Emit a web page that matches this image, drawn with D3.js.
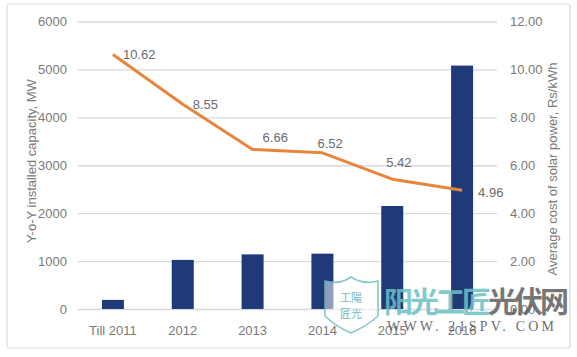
<!DOCTYPE html>
<html><head><meta charset="utf-8">
<script src="https://cdn.jsdelivr.net/npm/d3@7"></script>
<style>
html,body{margin:0;padding:0;background:#fff;}
svg{display:block;font-family:"Liberation Sans",Arial,sans-serif;}
</style></head>
<body>
<svg id="c" width="577" height="357"></svg>
<script>
const categories = ["Till 2011","2012","2013","2014","2015","2016"];
const capacityMW = [190, 1025, 1140, 1155, 2150, 5080];
const costRsKWh = [10.62, 8.55, 6.66, 6.52, 5.42, 4.96];
const leftTicks = [0,1000,2000,3000,4000,5000,6000];
const rightTicks = [0,2,4,6,8,10,12];

const svg = d3.select("#c");
const plotL = 78, plotR = 497, plotT = 21.5, plotB = 309;

// outer frame
svg.append("rect").attr("x",7).attr("y",4).attr("width",563).attr("height",344)
  .attr("rx",3).attr("fill","#fff").attr("stroke","#dcdcdc").attr("stroke-width",1.2);

const x = d3.scaleBand().domain(categories).range([plotL, plotR]).paddingInner(0.685).paddingOuter(0.3425);
const yL = d3.scaleLinear().domain([0,6000]).range([plotB, plotT]);
const yR = d3.scaleLinear().domain([0,12]).range([plotB, plotT]);

// gridlines
const grid = svg.append("g").attr("transform",`translate(${plotL},0)`)
  .call(d3.axisLeft(yL).tickValues(leftTicks).tickSize(-(plotR-plotL)).tickFormat(""));
grid.select(".domain").remove();
grid.selectAll("line").attr("stroke","#d9d9d9").attr("stroke-width",1.3);

// left axis labels
const la = svg.append("g").attr("transform",`translate(67,0)`)
  .call(d3.axisLeft(yL).tickValues(leftTicks).tickSize(0).tickPadding(0).tickFormat(d3.format("d")));
la.select(".domain").remove();
la.selectAll("text").attr("font-size",13).attr("fill","#7a7a7a").attr("font-family","Liberation Sans, Arial, sans-serif");

// right axis labels
const ra = svg.append("g").attr("transform",`translate(510,0)`)
  .call(d3.axisRight(yR).tickValues(rightTicks).tickSize(0).tickPadding(0).tickFormat(d3.format(".2f")));
ra.select(".domain").remove();
ra.selectAll("text").attr("font-size",13).attr("fill","#7a7a7a").attr("font-family","Liberation Sans, Arial, sans-serif");

// x axis labels
const xa = svg.append("g").attr("transform",`translate(0,322)`)
  .call(d3.axisBottom(x).tickSize(0).tickPadding(0));
xa.select(".domain").remove();
xa.selectAll("text").attr("font-size",13).attr("fill","#7a7a7a").attr("dy","1em").attr("font-family","Liberation Sans, Arial, sans-serif");

// bars
svg.append("g").selectAll("rect").data(categories).join("rect")
  .attr("x", d => x(d)).attr("width", x.bandwidth())
  .attr("y", (d,i) => yL(capacityMW[i]))
  .attr("height", (d,i) => yL(0) - yL(capacityMW[i]))
  .attr("fill","#1e3a78");

// line
const cx = d => x(d) + x.bandwidth()/2;
const line = d3.line().x((d,i) => cx(categories[i])).y(d => yR(d));
svg.append("path").datum(costRsKWh).attr("d", line)
  .attr("fill","none").attr("stroke","#e8853d").attr("stroke-width",3).attr("stroke-linejoin","round");

// line labels (placement offsets are layout, not data)
const labelOffsets = [[10,4],[10,5],[10,-7],[-5,-5],[-6,-12],[16,7]];
svg.append("g").selectAll("text").data(costRsKWh).join("text")
  .attr("x", (d,i) => cx(categories[i]) + labelOffsets[i][0])
  .attr("y", (d,i) => yR(d) + labelOffsets[i][1])
  .text(d => d3.format(".2f")(d))
  .attr("font-size",13).attr("fill","#6b6b6b");

// axis titles
svg.append("text").attr("transform","translate(36,161) rotate(-90)")
  .attr("text-anchor","middle").attr("font-size",13).attr("fill","#7a7a7a")
  .text("Y-o-Y installed capacity, MW");
svg.append("text").attr("transform","translate(557,169) rotate(-90)")
  .attr("text-anchor","middle").attr("font-size",13).attr("fill","#7a7a7a")
  .text("Average cost of solar power, Rs/kWh");

// watermark
const wm = svg.append("g").attr("opacity",0.85);
wm.append("path")
  .attr("d","M325,281 Q340,285 351,277 Q363,285 378,281 L378,316 Q367,326 351,333 Q335,326 325,316 Z")
  .attr("fill","rgba(255,255,255,0.6)").attr("stroke","#6cc0c4").attr("stroke-width",1.6);
wm.append("text").attr("x",351).attr("y",302).attr("text-anchor","middle").attr("font-size",11)
  .attr("fill","#5aaeb3").attr("font-family","Noto Sans CJK SC").text("工陽");
wm.append("text").attr("x",351).attr("y",318).attr("text-anchor","middle").attr("font-size",11)
  .attr("fill","#5aaeb3").attr("font-family","Noto Sans CJK SC").text("匠光");
wm.append("text").attr("x",384).attr("y",313).attr("font-size",29).attr("font-weight","bold")
  .attr("font-family","Noto Sans CJK SC").attr("fill","#6cc0c4").attr("letter-spacing",-3)
  .text("阳光工匠").append("tspan").attr("fill","#5f5f5f").text("光伏网");
wm.append("text").attr("x",387).attr("y",331).attr("font-size",14)
  .attr("font-family","Liberation Serif, serif").attr("fill","#555").attr("letter-spacing",3.2)
  .text("WWW. 21SPV. COM");
</script>
</body></html>
